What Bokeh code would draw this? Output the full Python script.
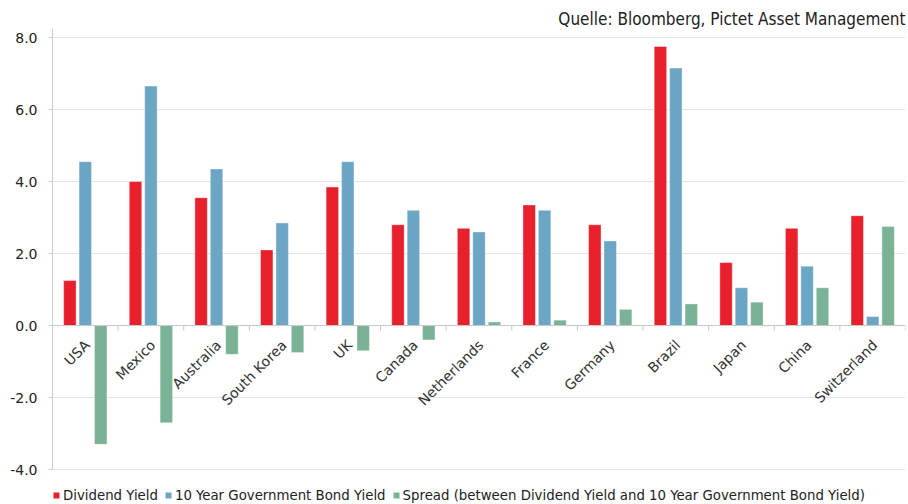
import math
from bokeh.plotting import figure
from bokeh.models import (FactorRange, Range1d, FixedTicker, Legend, LegendItem,
                          ColumnDataSource, Title, Span, PrintfTickFormatter)
from bokeh.core.properties import value
from bokeh.transform import dodge
from bokeh.embed import file_html
from bokeh.resources import INLINE

countries = ["USA", "Mexico", "Australia", "South Korea", "UK", "Canada", "Netherlands",
             "France", "Germany", "Brazil", "Japan", "China", "Switzerland"]
dividend_yield = [1.25, 4.0, 3.55, 2.1, 3.85, 2.8, 2.7, 3.35, 2.8, 7.75, 1.75, 2.7, 3.05]
bond_yield = [4.55, 6.65, 4.35, 2.85, 4.55, 3.2, 2.6, 3.2, 2.35, 7.15, 1.05, 1.65, 0.25]
spread = [-3.3, -2.7, -0.8, -0.75, -0.7, -0.4, 0.1, 0.15, 0.45, 0.6, 0.65, 1.05, 2.75]
y_ticks = [-4, -2, 0, 2, 4, 6, 8]
legend_labels = ["Dividend Yield", "10 Year Government Bond Yield",
                 "Spread (between Dividend Yield and 10 Year Government Bond Yield)"]
source_text = "Quelle: Bloomberg, Pictet Asset Management"

RED = "#E8202C"
BLUE = "#6BA6C4"
GREEN = "#79B294"
COND = "DejaVu Sans Condensed"

src = ColumnDataSource(dict(country=countries, div=dividend_yield, bond=bond_yield,
                            spread=spread, zero=[0] * len(countries),
                            tick=[-0.14] * len(countries)))

p = figure(width=908, height=504, x_range=FactorRange(*countries),
           y_range=Range1d(-4.97, 8.25), output_backend="svg", toolbar_location=None,
           min_border_left=52, min_border_right=3, min_border_top=28, min_border_bottom=0)
p.outline_line_color = None
p.background_fill_color = "white"

bw = 0.19
r1 = p.vbar(x=dodge("country", -0.235, range=p.x_range), top="div", bottom=0, width=bw,
            source=src, fill_color=RED, line_color="white", line_alpha=0.4)
r2 = p.vbar(x=dodge("country", 0.0, range=p.x_range), top="bond", bottom=0, width=bw,
            source=src, fill_color=BLUE, line_color="white", line_alpha=0.4)
r3 = p.vbar(x=dodge("country", 0.235, range=p.x_range), top="spread", bottom=0, width=bw,
            source=src, fill_color=GREEN, line_color="white", line_alpha=0.4)

# zero line acting as category axis
p.add_layout(Span(location=0, dimension="width", line_color="#c8c8c8", line_width=1))
# tick marks at category boundaries
p.segment(x0=dodge("country", 0.5, range=p.x_range), y0="zero",
          x1=dodge("country", 0.5, range=p.x_range), y1="tick", source=src,
          line_color="#c8c8c8", line_width=1)
# category labels
p.text(x=dodge("country", 0.03, range=p.x_range), y="zero", text="country", source=src,
       angle=45, angle_units="deg", text_align="right", text_baseline="middle",
       y_offset=17, text_font=value("DejaVu Sans"), text_font_size="14px",
       text_color="#333333")

p.xaxis.visible = False
p.xgrid.grid_line_color = None
p.ygrid.grid_line_color = "#e4e4e4"
p.ygrid.ticker = FixedTicker(ticks=y_ticks)

p.yaxis.ticker = FixedTicker(ticks=y_ticks)
p.yaxis.bounds = (-4, 8.25)
p.yaxis.formatter = PrintfTickFormatter(format="%.1f")
p.yaxis.axis_line_color = "#d0d0d0"
p.yaxis.major_tick_line_color = "#d0d0d0"
p.yaxis.major_tick_out = 4
p.yaxis.major_tick_in = 0
p.yaxis.minor_tick_line_color = None
p.yaxis.major_label_text_font = "DejaVu Sans"
p.yaxis.major_label_text_font_size = "14px"
p.yaxis.major_label_text_color = "#222222"
p.yaxis.major_label_standoff = 11

legend = Legend(items=[LegendItem(label=legend_labels[0], renderers=[r1]),
                       LegendItem(label=legend_labels[1], renderers=[r2]),
                       LegendItem(label=legend_labels[2], renderers=[r3])],
                orientation="horizontal", location=(0, 1),
                label_text_font=COND, label_text_font_size="14.8px",
                label_text_color="#222222", glyph_width=8, glyph_height=8,
                label_standoff=3, spacing=6, padding=0, margin=0,
                border_line_color=None, background_fill_alpha=0)
p.add_layout(legend)

p.add_layout(Title(text=source_text, align="right", text_font=COND,
                   text_font_size="17px", text_font_style="normal",
                   text_color="#222222", standoff=0), "above")

open("out.html", "w").write(file_html(p, INLINE))
